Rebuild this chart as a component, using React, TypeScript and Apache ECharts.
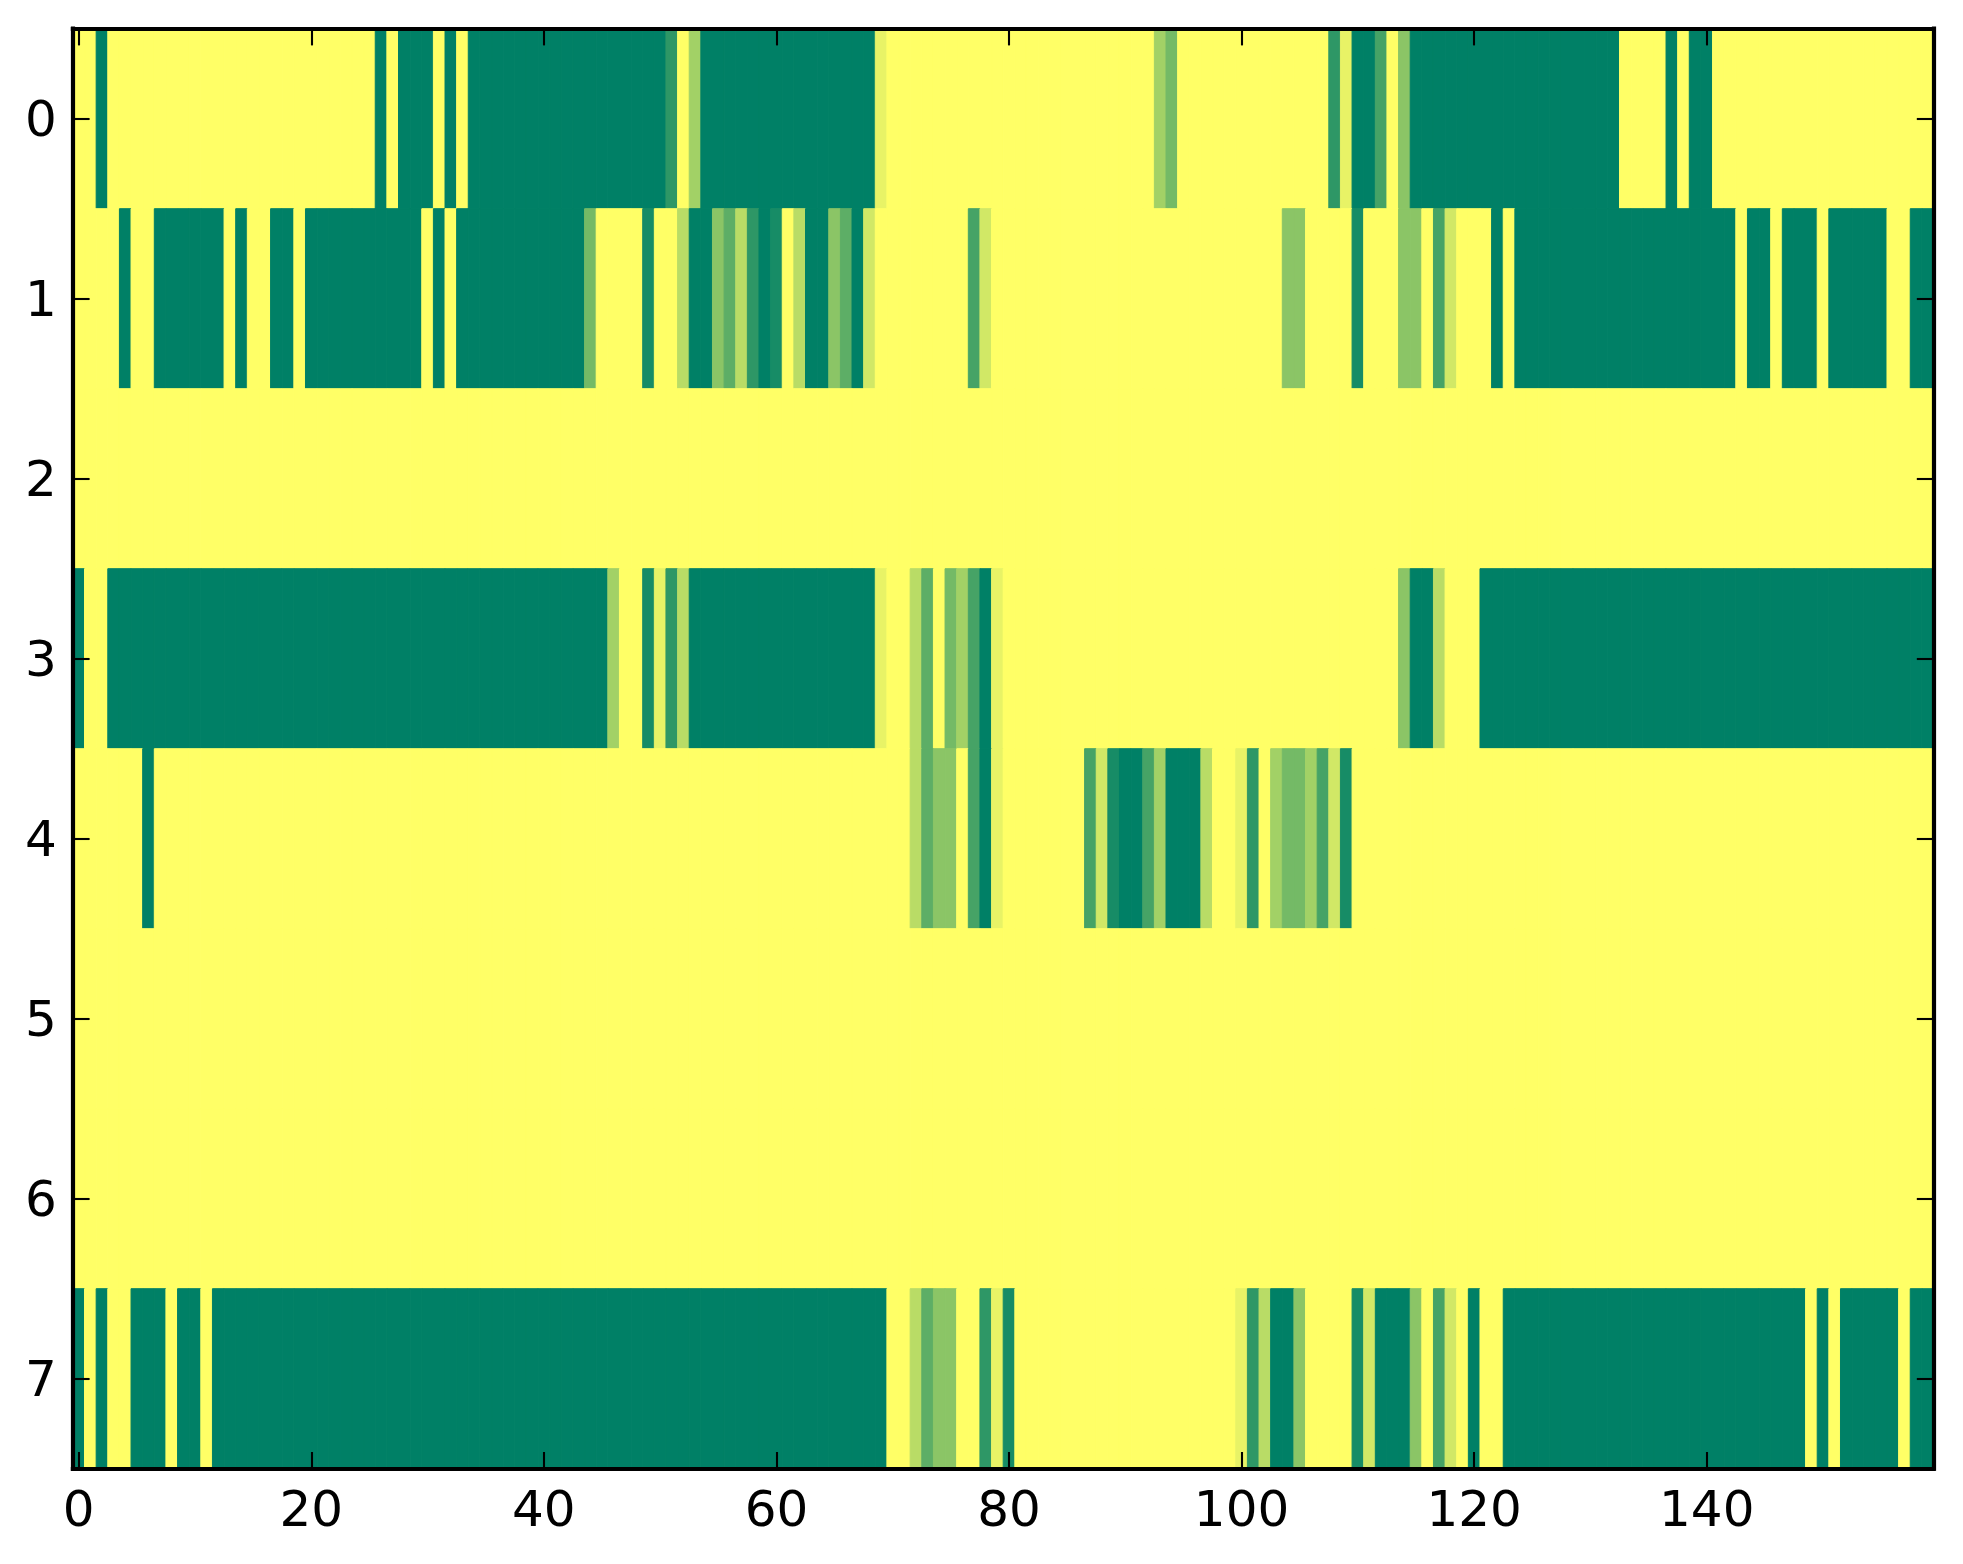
import React, { useEffect, useRef } from 'react';
import * as echarts from 'echarts';

// Row labels (y axis, top to bottom) and x tick labels
const rowLabels = ['0', '1', '2', '3', '4', '5', '6', '7'];
const columnCount = 160;
const xTickLabels = ['0', '20', '40', '60', '80', '100', '120', '140'];

// Cell values per row, one base-12 digit per column: digit k means value k/11
// (0 = dark green, B = 11 = yellow). Groups of 10 columns.
const row0 = [
  'BB0BBBBBBB', 'BBBBBBBBBB', 'BBBBBB0B00', '0B0B000000', '0000000000', '02B7000000', '000000000A', 'BBBBBBBBBB',
  'BBBBBBBBBB', 'BBB75BBBBB', 'BBBBBBBB2A', '003B600000', '0000000000', '000BBBB0B0', '0BBBBBBBBB', 'BBBBBBBBBB',
].join('');
const row1 = [
  'BBBB0BB000', '000B0BB00B', '0000000000', 'B0B0000000', '00005BBBB1', 'BB80064820', '1B8006409B', 'BBBBBBB39B',
  'BBBBBBBBBB', 'BBBBBBBBBB', 'BBBB66BBBB', '1BBB66B39B', 'BB0B000000', '0000000000', '000B00B000', 'B00000BB00',
].join('');
const row2 = [
  'BBBBBBBBBB', 'BBBBBBBBBB', 'BBBBBBBBBB', 'BBBBBBBBBB', 'BBBBBBBBBB', 'BBBBBBBBBB', 'BBBBBBBBBB', 'BBBBBBBBBB',
  'BBBBBBBBBB', 'BBBBBBBBBB', 'BBBBBBBBBB', 'BBBBBBBBBB', 'BBBBBBBBBB', 'BBBBBBBBBB', 'BBBBBBBBBB', 'BBBBBBBBBB',
].join('');
const row3 = [
  '0BB0000000', '0000000000', '0000000000', '0000000000', '0000007BB1', 'A280000000', '000000000A', 'BB84B5730A',
  'BBBBBBBBBB', 'BBBBBBBBBB', 'BBBBBBBBBB', 'BBBB6008BB', 'B000000000', '0000000000', '0000000000', '0000000000',
].join('');
const row4 = [
  'BBBBBB0BBB', 'BBBBBBBBBB', 'BBBBBBBBBB', 'BBBBBBBBBB', 'BBBBBBBBBB', 'BBBBBBBBBB', 'BBBBBBBBBB', 'BB8466B30A',
  'BBBBBBB391', '00370008BB', 'A2B7557391', 'BBBBBBBBBB', 'BBBBBBBBBB', 'BBBBBBBBBB', 'BBBBBBBBBB', 'BBBBBBBBBB',
].join('');
const row5 = [
  'BBBBBBBBBB', 'BBBBBBBBBB', 'BBBBBBBBBB', 'BBBBBBBBBB', 'BBBBBBBBBB', 'BBBBBBBBBB', 'BBBBBBBBBB', 'BBBBBBBBBB',
  'BBBBBBBBBB', 'BBBBBBBBBB', 'BBBBBBBBBB', 'BBBBBBBBBB', 'BBBBBBBBBB', 'BBBBBBBBBB', 'BBBBBBBBBB', 'BBBBBBBBBB',
].join('');
const row6 = [
  'BBBBBBBBBB', 'BBBBBBBBBB', 'BBBBBBBBBB', 'BBBBBBBBBB', 'BBBBBBBBBB', 'BBBBBBBBBB', 'BBBBBBBBBB', 'BBBBBBBBBB',
  'BBBBBBBBBB', 'BBBBBBBBBB', 'BBBBBBBBBB', 'BBBBBBBBBB', 'BBBBBBBBBB', 'BBBBBBBBBB', 'BBBBBBBBBB', 'BBBBBBBBBB',
].join('');
const row7 = [
  '0B0BB000B0', '0B00000000', '0000000000', '0000000000', '0000000000', '0000000000', '0000000000', 'BB8466BB2A',
  '1BBBBBBBBB', 'BBBBBBBBBB', 'A28006BBBB', '190006B39B', '0BB0000000', '0000000000', '000000000B', '0B00000B00',
].join('');
const rowCodes = [row0, row1, row2, row3, row4, row5, row6, row7];

// "summer" colormap end points
const colorLow = '#008066';
const colorHigh = '#ffff66';

const W = 1963;
const H = 1564;

export default function App() {
  const ref = useRef<HTMLDivElement>(null);

  useEffect(() => {
    if (!ref.current) return;
    const chart = echarts.init(ref.current, null, { renderer: 'svg', width: W, height: H });

    const categories = Array.from({ length: columnCount }, (_, i) => String(i));
    const data: number[][] = [];
    rowCodes.forEach((code, r) => {
      for (let c = 0; c < columnCount; c++) {
        data.push([c, r, parseInt(code[c], 12) / 11]);
      }
    });

    const font = 'DejaVu Sans';
    const lineStyle = { color: '#000', width: 4.2, cap: 'square' as const };
    const tickStyle = { color: '#000', width: 2.1 };
    const xTickShow = (_i: number, v: string) => xTickLabels.includes(v);

    chart.setOption({
      animation: false,
      backgroundColor: '#fff',
      textStyle: { fontFamily: font },
      grid: {
        left: 72.9,
        top: 28.7,
        right: 29.5,
        bottom: 95.3,
        containLabel: false,
        outerBoundsMode: 'none',
      },
      visualMap: {
        show: false,
        type: 'continuous',
        min: 0,
        max: 1,
        dimension: 2,
        inRange: { color: [colorLow, colorHigh] },
      },
      xAxis: [
        {
          type: 'category',
          data: categories,
          position: 'bottom',
          z: 10,
          axisLine: { show: true, lineStyle },
          axisTick: { show: true, inside: true, length: 16.7, alignWithLabel: true, interval: xTickShow, lineStyle: tickStyle },
          axisLabel: {
            show: true,
            interval: xTickShow,
            margin: 15,
            fontSize: 50,
            color: '#000',
            fontFamily: font,
          },
          splitLine: { show: false },
        },
        {
          type: 'category',
          data: categories,
          position: 'top',
          z: 10,
          axisLine: { show: true, lineStyle },
          axisTick: { show: true, inside: true, length: 16.7, alignWithLabel: true, interval: xTickShow, lineStyle: tickStyle },
          axisLabel: { show: false },
          splitLine: { show: false },
        },
      ],
      yAxis: [
        {
          type: 'category',
          data: rowLabels,
          inverse: true,
          position: 'left',
          z: 10,
          axisLine: { show: true, lineStyle },
          axisTick: { show: true, inside: true, length: 16.7, alignWithLabel: true, interval: 0, lineStyle: tickStyle },
          axisLabel: { show: true, interval: 0, margin: 16, fontSize: 50, color: '#000', fontFamily: font },
          splitLine: { show: false },
        },
        {
          type: 'category',
          data: rowLabels,
          inverse: true,
          position: 'right',
          z: 10,
          axisLine: { show: true, lineStyle },
          axisTick: { show: true, inside: true, length: 16.7, alignWithLabel: true, interval: 0, lineStyle: tickStyle },
          axisLabel: { show: false },
          splitLine: { show: false },
        },
      ],
      series: [
        {
          type: 'custom',
          xAxisIndex: 0,
          yAxisIndex: 0,
          clip: true,
          encode: { x: 0, y: 1 },
          data,
          renderItem: (_params: any, api: any) => {
            const p = api.coord([api.value(0), api.value(1)]);
            const s = api.size([1, 1]);
            const color = api.visual('color');
            return {
              type: 'rect',
              shape: { x: p[0] - s[0] / 2, y: p[1] - s[1] / 2, width: s[0], height: s[1] },
              style: { fill: color, stroke: color, lineWidth: 1 },
            };
          },
        },
      ],
    });

    return () => {
      chart.dispose();
    };
  }, []);

  return <div ref={ref} style={{ position: 'absolute', left: 0, top: 0, width: W, height: H }} />;
}
